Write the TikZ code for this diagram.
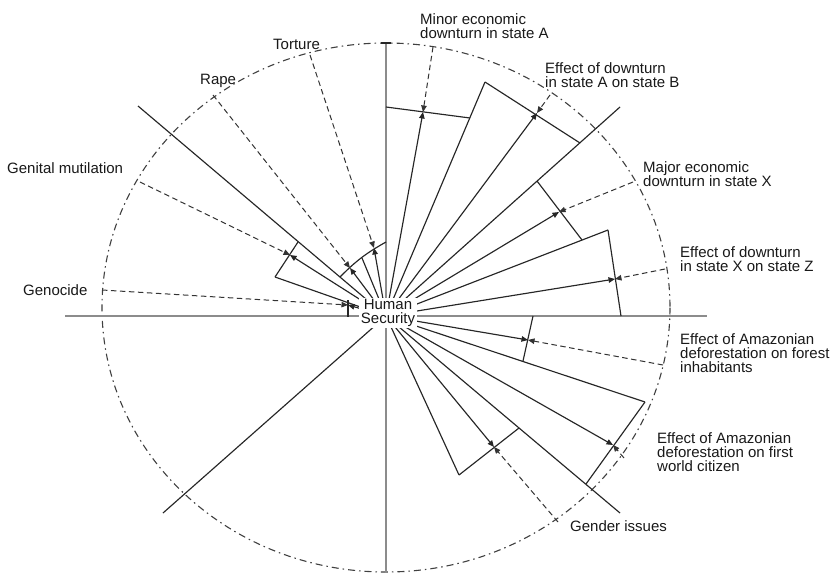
\documentclass[tikz,border=0pt]{standalone}
\usepackage{fontspec}
\setmainfont{Liberation Sans}
\usetikzlibrary{arrows.meta,calc}
\begin{document}
\begin{tikzpicture}[x=1pt,y=-1pt,
  axisline/.style={draw=black!45,line width=1.9pt},
  ray/.style={draw=black!85,line width=1.15pt},
  arr/.style={ray,-{Triangle[length=6.5pt,width=5.5pt]}},
  dsh/.style={draw=black!80,line width=1pt,dash pattern=on 5.5pt off 3.5pt,-{Triangle[length=6.5pt,width=5.5pt]}},
  ell/.style={draw=black!75,line width=1.1pt,dash pattern=on 7pt off 4pt on 1.5pt off 4pt},
  lbl/.style={font=\fontsize{15}{14}\selectfont,inner sep=0pt,align=left,text=black!90},
]
\useasboundingbox (0,0) rectangle (838,573);
\fill[white] (0,0) rectangle (838,573);

% ellipse boundary
\draw[ell] (386,307.5) ellipse [x radius=284, y radius=264.5];

% axes
\coordinate (O) at (386,316);
\coordinate (HL) at (65,316);
\coordinate (HR) at (707,316);
\coordinate (VT) at (386,43);
\coordinate (VB) at (386,573);
\draw[axisline] (HL) -- (HR);
\draw[axisline] (VT) -- (VB);
\draw[ray] (381,43) -- (391,43);

% long lines / wedge edges
\coordinate (L1) at (485,82);
\coordinate (L2) at (620,107);
\coordinate (L3) at (608,230);
\coordinate (L4) at (645,402);
\coordinate (L5) at (620,513);
\coordinate (L6) at (163,513);
\coordinate (L7) at (138,106);
\coordinate (E7) at (459,475);
\coordinate (E8) at (275,277);
\foreach \p in {L1,L2,L3,L4,L5,L6,L7,E7,E8} \draw[ray] (O) -- (\p);

% chords
\coordinate (c1a) at (386,107); \coordinate (c1b) at (470,118);
\coordinate (c2b) at (580,143);
\coordinate (c3a) at (537,181); \coordinate (c3b) at (582,240);
\coordinate (c4b) at (621,316);
\coordinate (c5a) at (533,316); \coordinate (c5b) at (523,361);
\coordinate (c6b) at (586,484);
\coordinate (c7a) at (519,428);
\coordinate (c8a) at (298,242);
\coordinate (g1) at (348,300); \coordinate (g2) at (348,317);
\coordinate (ra) at (340,277); \coordinate (rb) at (386,242);
\draw[ray] (c1a) -- (c1b);
\draw[ray] (L1) -- (c2b);
\draw[ray] (c3a) -- (c3b);
\draw[ray] (L3) -- (c4b);
\draw[ray] (c5a) -- (c5b);
\draw[ray] (L4) -- (c6b);
\draw[ray] (c7a) -- (E7);
\draw[ray] (c8a) -- (E8);
\draw[ray] (g1) -- (g2);
\draw[ray] (ra) to[bend left=8] (rb);
\coordinate (rm) at (362,258);
\draw[ray] (O) -- (rm);

% arrow pairs: P on chord, Q on boundary
\foreach \px/\py/\qx/\qy [count=\i] in {
  423/112/433/47,
  537/113/550/95,
  559/212/633/182,
  615/279/665/269,
  528/340/663/365,
  613/445/624/458,
  494/447/558/522,
  290/255/140/182,
  348/305/102/290,
  350/268/213/95,
  374/248/310/55}{
  \coordinate (P\i) at (\px,\py);
  \coordinate (Q\i) at (\qx,\qy);
  \draw[arr] (O) -- (P\i);
  \draw[dsh] (Q\i) -- (P\i);
}

% centre label
\node[lbl,align=center,fill=white,inner sep=1.5pt] (hs) at (388,313) {Human\\Security};

% labels
\node[lbl,anchor=west] (tTort) at (273,44) {Torture};
\node[lbl,anchor=west] (tRape) at (200,81) {Rape};
\node[lbl,anchor=west] (tGen) at (7,168) {Genital mutilation};
\node[lbl,anchor=west] (tGeno) at (23,290) {Genocide};
\node[lbl,anchor=west] (tMinA) at (420,26) {Minor economic\\downturn in state A};
\node[lbl,anchor=west] (tAB) at (545,75) {Effect of downturn\\in state A on state B};
\node[lbl,anchor=west] (tMajX) at (643,174) {Major economic\\downturn in state X};
\node[lbl,anchor=west] (tXZ) at (680,259) {Effect of downturn\\in state X on state Z};
\node[lbl,anchor=west] (tAmF) at (680,353) {Effect of Amazonian\\deforestation on forest\\inhabitants};
\node[lbl,anchor=west] (tAmW) at (657,452) {Effect of Amazonian\\deforestation on first\\world citizen};
\node[lbl,anchor=west] (tGend) at (570,526) {Gender issues};
\end{tikzpicture}
\end{document}
